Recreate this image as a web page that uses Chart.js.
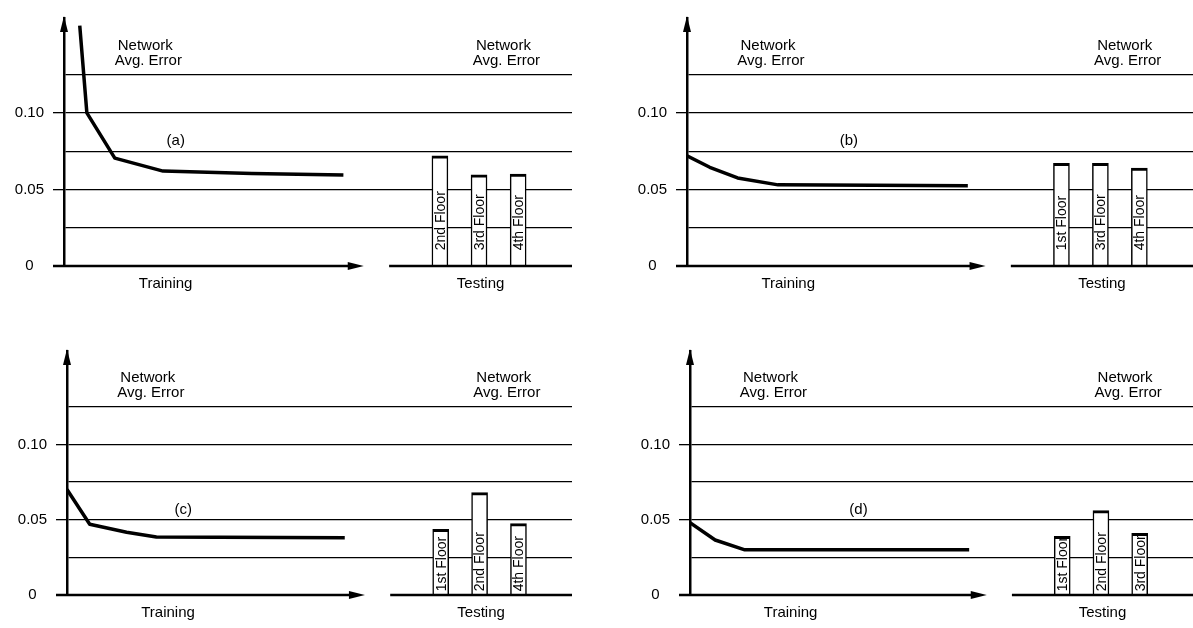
<!DOCTYPE html>
<html>
<head>
<meta charset="utf-8">
<script src="https://cdn.jsdelivr.net/npm/chart.js@4.4.1/dist/chart.umd.min.js"></script>
<style>
  body { margin: 0; background: #fff; width: 1193px; height: 628px; overflow: hidden; position: relative; }
  canvas { position: absolute; }
</style>
</head>
<body>
<canvas id="pa"></canvas>
<canvas id="pb"></canvas>
<canvas id="pc"></canvas>
<canvas id="pd"></canvas>
<script>
// values
const panelTags = ["(a)", "(b)", "(c)", "(d)"];
const trainX = [
    [3.1, 4.5, 10, 19.5, 37, 55],
    [0, 4.5, 10, 18, 55.5],
    [0, 4.5, 11.8, 17.7, 55],
    [0, 5, 10.9, 55.5],
];
const trainErr = [
    [0.157, 0.100, 0.0705, 0.062, 0.0605, 0.0595],
    [0.072, 0.0645, 0.0575, 0.053, 0.0525],
    [0.070, 0.047, 0.0417, 0.0385, 0.038],
    [0.048, 0.0365, 0.030, 0.030],
];
const testFloors = [
    ["2nd Floor", "3rd Floor", "4th Floor"],
    ["1st Floor", "3rd Floor", "4th Floor"],
    ["1st Floor", "2nd Floor", "4th Floor"],
    ["1st Floor", "2nd Floor", "3rd Floor"],
];
const testErr = [
    [0.072, 0.0595, 0.060],
    [0.067, 0.067, 0.064],
    [0.0436, 0.068, 0.0474],
    [0.039, 0.056, 0.041],
];
const floorX = [74, 81.7, 89.4];
const yTicks = [0, 0.025, 0.05, 0.075, 0.1, 0.125];
const yTickLabels = ["0", "", "0.05", "", "0.10", ""];
const xLabels = ["Training", "Testing"];
const xLabelAt = [20, 82];
const headerText = ["Network", "Avg. Error"];

// layout
const boxes = [
    { id: "pa", left: 0, top: 0, width: 572, height: 310, axisH: 44 },
    { id: "pb", left: 623, top: 0, width: 570, height: 310, axisH: 44 },
    { id: "pc", left: 3, top: 333, width: 569, height: 295, axisH: 33 },
    { id: "pd", left: 626, top: 333, width: 567, height: 295, axisH: 33 },
];
const tagAt = [[22, 0.082], [32, 0.082], [23, 0.0565], [33.5, 0.0565]];
const textLift = [15, 15, 3, 3];
const headerAt = [16, 86.5];
const trainAxisEnd = 59;
const testAxisStart = 64;
const FONT = "'Liberation Sans', Arial, sans-serif";

Chart.defaults.font.family = FONT;
Chart.defaults.font.size = 15;
Chart.defaults.color = "#000";

const decor = {
    id: "decor",
    afterDatasetsDraw(chart, args, opts) {
        const { ctx, chartArea: a } = chart;
        const x = chart.scales.x, y = chart.scales.y;
        const p = opts.panel;
        const y0 = y.getPixelForValue(0);
        ctx.save();
        ctx.fillStyle = "#000";
        ctx.strokeStyle = "#000";

        // y axis arrow head
        ctx.beginPath();
        ctx.moveTo(a.left, a.top - 2);
        ctx.lineTo(a.left - 4, a.top + 14);
        ctx.lineTo(a.left + 4, a.top + 14);
        ctx.closePath();
        ctx.fill();

        // training axis with arrow
        const xEnd = x.getPixelForValue(trainAxisEnd);
        ctx.lineWidth = 2.5;
        ctx.beginPath();
        ctx.moveTo(a.left - 11, y0);
        ctx.lineTo(xEnd - 10, y0);
        ctx.stroke();
        ctx.beginPath();
        ctx.moveTo(xEnd, y0);
        ctx.lineTo(xEnd - 16, y0 - 4);
        ctx.lineTo(xEnd - 16, y0 + 4);
        ctx.closePath();
        ctx.fill();

        // testing baseline
        ctx.beginPath();
        ctx.moveTo(x.getPixelForValue(testAxisStart), y0);
        ctx.lineTo(a.right, y0);
        ctx.stroke();

        // headers
        ctx.font = "15px " + FONT;
        ctx.textAlign = "center";
        ctx.textBaseline = "middle";
        headerAt.forEach((hx) => {
            ctx.fillText(headerText[0], x.getPixelForValue(hx), y.getPixelForValue(0.144));
            ctx.fillText(headerText[1], x.getPixelForValue(hx) + 3, y.getPixelForValue(0.134));
        });

        // panel tag
        ctx.fillText(panelTags[p], x.getPixelForValue(tagAt[p][0]), y.getPixelForValue(tagAt[p][1]));

        // floor names inside the bars
        ctx.font = "14px " + FONT;
        ctx.textAlign = "left";
        chart.getDatasetMeta(1).data.forEach((bar, i) => {
            ctx.save();
            ctx.translate(bar.x + 1, bar.base - textLift[p]);
            ctx.rotate(-Math.PI / 2);
            ctx.fillText(testFloors[p][i], 0, 0);
            ctx.restore();
        });
        ctx.restore();
    },
};

boxes.forEach((b, p) => {
    const cv = document.getElementById(b.id);
    cv.width = b.width;
    cv.height = b.height;
    cv.style.left = b.left + "px";
    cv.style.top = b.top + "px";

    new Chart(cv, {
        type: "line",
        data: {
            datasets: [
                {
                    type: "line",
                    data: trainX[p].map((v, i) => ({ x: v, y: trainErr[p][i] })),
                    borderColor: "#000",
                    borderWidth: 3.5,
                    pointRadius: 0,
                    tension: 0,
                    borderJoinStyle: "round",
                },
                {
                    type: "bar",
                    data: floorX.map((v, i) => ({ x: v, y: testErr[p][i] })),
                    backgroundColor: "#fff",
                    borderColor: "#000",
                    borderWidth: { top: 3, left: 1.5, right: 1.5, bottom: 0 },
                    barThickness: 16,
                },
            ],
        },
        plugins: [decor],
        options: {
            responsive: false,
            animation: false,
            layout: { padding: { top: 10, right: 0, left: 0, bottom: 0 } },
            plugins: {
                legend: { display: false },
                tooltip: { enabled: false },
                decor: { panel: p },
            },
            scales: {
                x: {
                    type: "linear",
                    min: 0,
                    max: 100,
                    offset: false,
                    grid: { display: false, drawTicks: false, offset: false },
                    border: { display: false },
                    afterBuildTicks: (s) => { s.ticks = xLabelAt.map((v) => ({ value: v })); },
                    afterFit: (s) => { s.height = b.axisH; },
                    ticks: {
                        autoSkip: false,
                        maxRotation: 0,
                        padding: 9,
                        callback: (v, i) => xLabels[i],
                    },
                },
                y: {
                    type: "linear",
                    min: 0,
                    max: 0.162,
                    afterBuildTicks: (s) => { s.ticks = yTicks.map((v) => ({ value: v })); },
                    afterFit: (s) => { s.width = 64; },
                    border: { display: true, color: "#000", width: 2.5 },
                    grid: {
                        lineWidth: 1.3,
                        tickLength: 11,
                        color: (c) => (c.index === 0 ? "rgba(0,0,0,0)" : "#000"),
                        tickColor: (c) => (yTickLabels[c.index] && c.index > 0 ? "#000" : "rgba(0,0,0,0)"),
                    },
                    ticks: {
                        padding: 9,
                        crossAlign: "center",
                        callback: (v, i) => yTickLabels[i],
                    },
                },
            },
        },
    });
});
</script>
</body>
</html>
